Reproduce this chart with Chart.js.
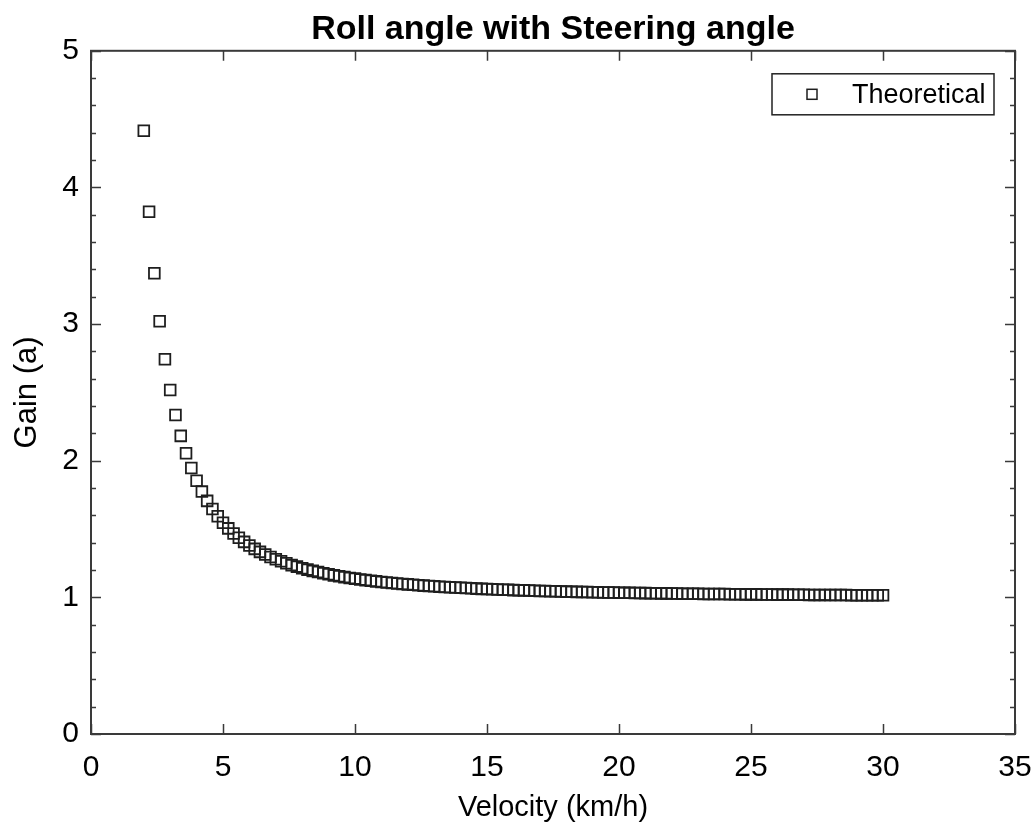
<!DOCTYPE html>
<html>
<head>
<meta charset="utf-8">
<title>Roll angle with Steering angle</title>
<script src="https://cdn.jsdelivr.net/npm/chart.js@4.4.1/dist/chart.umd.min.js"></script>
<style>
  html, body { margin: 0; padding: 0; background: #fff; }
  #wrap { width: 1036px; height: 825px; }
</style>
</head>
<body>
<div id="wrap"><canvas id="gainChart" width="1036" height="825"></canvas></div>
<script>
// Velocity (km/h)
const velocity = [
  2.0, 2.2, 2.4, 2.6, 2.8, 3.0, 3.2, 3.4, 3.6, 3.8,
  4.0, 4.2, 4.4, 4.6, 4.8, 5.0, 5.2, 5.4, 5.6, 5.8,
  6.0, 6.2, 6.4, 6.6, 6.8, 7.0, 7.2, 7.4, 7.6, 7.8,
  8.0, 8.2, 8.4, 8.6, 8.8, 9.0, 9.2, 9.4, 9.6, 9.8,
  10.0, 10.2, 10.4, 10.6, 10.8, 11.0, 11.2, 11.4, 11.6, 11.8,
  12.0, 12.2, 12.4, 12.6, 12.8, 13.0, 13.2, 13.4, 13.6, 13.8,
  14.0, 14.2, 14.4, 14.6, 14.8, 15.0, 15.2, 15.4, 15.6, 15.8,
  16.0, 16.2, 16.4, 16.6, 16.8, 17.0, 17.2, 17.4, 17.6, 17.8,
  18.0, 18.2, 18.4, 18.6, 18.8, 19.0, 19.2, 19.4, 19.6, 19.8,
  20.0, 20.2, 20.4, 20.6, 20.8, 21.0, 21.2, 21.4, 21.6, 21.8,
  22.0, 22.2, 22.4, 22.6, 22.8, 23.0, 23.2, 23.4, 23.6, 23.8,
  24.0, 24.2, 24.4, 24.6, 24.8, 25.0, 25.2, 25.4, 25.6, 25.8,
  26.0, 26.2, 26.4, 26.6, 26.8, 27.0, 27.2, 27.4, 27.6, 27.8,
  28.0, 28.2, 28.4, 28.6, 28.8, 29.0, 29.2, 29.4, 29.6, 29.8,
  30.0
];

// Gain (a), theoretical
const gainTheoretical = [
  4.415, 3.822, 3.372, 3.021, 2.742, 2.518, 2.334, 2.182, 2.054, 1.946,
  1.854, 1.774, 1.706, 1.646, 1.593, 1.546, 1.505, 1.468, 1.436, 1.406,
  1.379, 1.355, 1.333, 1.314, 1.295, 1.279, 1.264, 1.249, 1.236, 1.225,
  1.213, 1.203, 1.194, 1.185, 1.176, 1.169, 1.161, 1.155, 1.148, 1.142,
  1.137, 1.131, 1.126, 1.122, 1.117, 1.113, 1.109, 1.105, 1.102, 1.098,
  1.095, 1.092, 1.089, 1.086, 1.083, 1.081, 1.078, 1.076, 1.074, 1.072,
  1.070, 1.068, 1.066, 1.064, 1.062, 1.061, 1.059, 1.058, 1.056, 1.055,
  1.053, 1.052, 1.051, 1.050, 1.048, 1.047, 1.046, 1.045, 1.044, 1.043,
  1.042, 1.041, 1.040, 1.039, 1.039, 1.038, 1.037, 1.036, 1.036, 1.035,
  1.034, 1.033, 1.033, 1.032, 1.032, 1.031, 1.030, 1.030, 1.029, 1.029,
  1.028, 1.028, 1.027, 1.027, 1.026, 1.026, 1.025, 1.025, 1.025, 1.024,
  1.024, 1.023, 1.023, 1.023, 1.022, 1.022, 1.022, 1.021, 1.021, 1.021,
  1.020, 1.020, 1.020, 1.019, 1.019, 1.019, 1.018, 1.018, 1.018, 1.018,
  1.017, 1.017, 1.017, 1.017, 1.016, 1.016, 1.016, 1.016, 1.016, 1.015,
  1.015
];

const xTicks = [0, 5, 10, 15, 20, 25, 30, 35];
const yTicks = [0, 1, 2, 3, 4, 5];
const yMinorStep = 0.2;

const FONT = '"Liberation Sans", Arial, sans-serif';
const AXIS_COLOR = '#3a3a3a';
const MARK_COLOR = '#1e1e1e';

Chart.defaults.font.family = FONT;
Chart.defaults.color = '#000';

// box around the plot with inward ticks on all four sides
const frameTicks = {
    id: 'frameTicks',
    afterDatasetsDraw(chart) {
        const { ctx, chartArea: a, scales: { x, y } } = chart;
        ctx.save();
        ctx.strokeStyle = AXIS_COLOR;
        ctx.lineWidth = 2;
        ctx.strokeRect(a.left, a.top, a.right - a.left, a.bottom - a.top);

        ctx.lineWidth = 1.5;
        ctx.beginPath();
        xTicks.forEach(v => {
            const px = Math.round(x.getPixelForValue(v)) + 0.5;
            ctx.moveTo(px, a.bottom); ctx.lineTo(px, a.bottom - 10);
            ctx.moveTo(px, a.top); ctx.lineTo(px, a.top + 10);
        });
        const yMin = yTicks[0], yMax = yTicks[yTicks.length - 1];
        const n = Math.round((yMax - yMin) / yMinorStep);
        const perMajor = Math.round((yTicks[1] - yTicks[0]) / yMinorStep);
        for (let i = 0; i <= n; i++) {
            const py = Math.round(y.getPixelForValue(yMin + i * yMinorStep)) + 0.5;
            const len = i % perMajor === 0 ? 10 : 5;
            ctx.moveTo(a.left, py); ctx.lineTo(a.left + len, py);
            ctx.moveTo(a.right, py); ctx.lineTo(a.right - len, py);
        }
        ctx.stroke();
        ctx.restore();
    }
};

// framed legend in the upper right corner
const boxLegend = {
    id: 'boxLegend',
    afterDraw(chart) {
        const { ctx, chartArea: a } = chart;
        const ds = chart.data.datasets[0];
        const w = 222, h = 41;
        const lx = a.right - 21 - w, ly = a.top + 23;
        ctx.save();
        ctx.fillStyle = '#fff';
        ctx.fillRect(lx, ly, w, h);
        ctx.strokeStyle = '#222';
        ctx.lineWidth = 1.5;
        ctx.strokeRect(lx, ly, w, h);

        const mx = lx + 40, my = ly + h / 2;
        ctx.strokeStyle = MARK_COLOR;
        ctx.strokeRect(mx - 5, my - 5, 10, 10);

        ctx.fillStyle = '#000';
        ctx.font = '27px ' + FONT;
        ctx.textBaseline = 'middle';
        ctx.fillText(ds.label, lx + 80, my + 1);
        ctx.restore();
    }
};

const ctx = document.getElementById('gainChart').getContext('2d');
new Chart(ctx, {
    type: 'scatter',
    data: {
        datasets: [{
            label: 'Theoretical',
            data: velocity.map((v, i) => ({ x: v, y: gainTheoretical[i] })),
            pointStyle: 'rect',
            pointRadius: 7.6,
            borderWidth: 1.8,
            borderColor: MARK_COLOR,
            backgroundColor: 'rgba(0,0,0,0)',
            showLine: false
        }]
    },
    options: {
        responsive: false,
        animation: false,
        events: [],
        layout: { padding: { left: 0, right: 21, top: 0, bottom: 0 } },
        plugins: {
            legend: { display: false },
            tooltip: { enabled: false },
            title: {
                display: true,
                text: 'Roll angle with Steering angle',
                fullSize: false,
                color: '#000',
                font: { size: 34, weight: 'bold' },
                padding: { top: 9, bottom: 1 }
            }
        },
        scales: {
            x: {
                type: 'linear',
                min: xTicks[0],
                max: xTicks[xTicks.length - 1],
                ticks: { stepSize: xTicks[1] - xTicks[0], color: '#000', font: { size: 30 }, padding: 16 },
                grid: { display: false, drawTicks: false },
                border: { display: false },
                title: { display: true, text: 'Velocity (km/h)', color: '#000', font: { size: 29 }, padding: 0 },
                afterFit(s) { s.height = 91; s.paddingLeft = 0; s.paddingRight = 0; }
            },
            y: {
                type: 'linear',
                min: yTicks[0],
                max: yTicks[yTicks.length - 1],
                ticks: { stepSize: yTicks[1] - yTicks[0], color: '#000', font: { size: 30 }, padding: 12 },
                grid: { display: false, drawTicks: false },
                border: { display: false },
                title: { display: true, text: 'Gain (a)', color: '#000', font: { size: 31 }, padding: { top: 9, bottom: 0 } },
                afterFit(s) { s.width = 91; s.paddingTop = 0; s.paddingBottom = 0; }
            }
        }
    },
    plugins: [frameTicks, boxLegend]
});
</script>
</body>
</html>
